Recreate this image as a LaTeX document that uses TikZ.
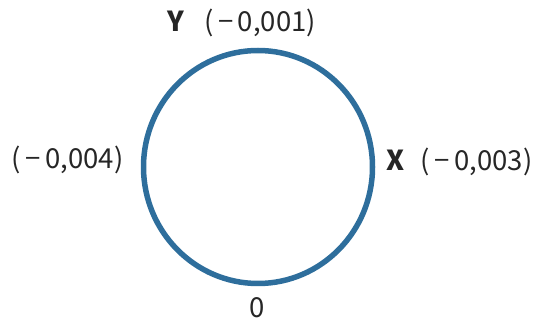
\documentclass[tikz,border=0pt]{standalone}
\usepackage{fontspec}
\setmainfont{Noto Sans CJK JP}
\definecolor{ringblue}{RGB}{46,110,156}
\begin{document}
\begin{tikzpicture}[x=1pt,y=1pt,
  lbl/.style={inner sep=0pt,anchor=base,font=\fontsize{27.5}{32}\selectfont,text=black!85},
  axlbl/.style={lbl,font=\fontsize{27.5}{32}\selectfont\bfseries}]
\useasboundingbox (0,0) rectangle (544,324);
\draw[ringblue,line width=5.5pt] (258,157) ellipse[x radius=114.5,y radius=116.5];
\node[axlbl] (ylab) at (175.5,292) {Y};
\node[lbl] (yval) at (260,292) {(\,−\,0,001)};
\node[lbl] (lval) at (67.5,155) {(\,−\,0,004)};
\node[axlbl] (xlab) at (395.5,153) {X};
\node[lbl] (xval) at (476.5,153) {(\,−\,0,003)};
\node[lbl] (zero) at (257,6) {0};
\end{tikzpicture}
\end{document}
